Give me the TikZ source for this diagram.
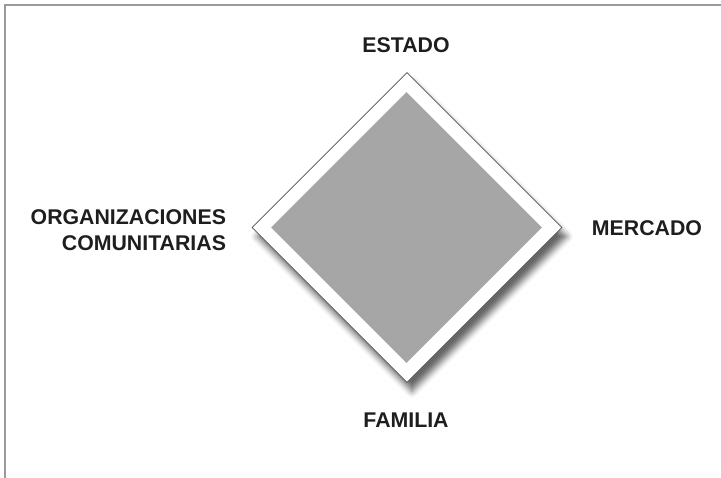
\documentclass[tikz,border=0pt]{standalone}
\usepackage{fontspec}
\setmainfont{Liberation Sans}
\usetikzlibrary{shapes.geometric, shadows.blur}
\definecolor{framegray}{HTML}{9A9A9A}
\definecolor{edgegray}{HTML}{505050}
\definecolor{fillgray}{HTML}{A6A6A6}
\definecolor{textdark}{HTML}{1E1E1E}

\begin{document}
\begin{tikzpicture} [x=1pt, y=-1pt, align=center, font=\fontsize{21.3}{26}\selectfont\bfseries, text=textdark]
\useasboundingbox (0,0) rectangle (721,478);
\draw[line width=2.5pt, framegray] (5,478) -- (5,5) -- (721,5);

\path (407,227.5) node[diamond, draw=edgegray, line width=0.8pt, fill=white, inner sep=0pt, minimum width=310pt, minimum height=310pt,
	  blur shadow={shadow xshift=5pt, shadow yshift=-9pt, shadow blur radius=6pt, shadow opacity=60}] (outer) {}
	  (406.5,227.5) node[diamond, fill=fillgray, inner sep=0pt, minimum width=271pt, minimum height=271pt] (inner) {};

\path (406,45) node (estado) {ESTADO}
	  (647,228) node (mercado) {MERCADO}
	  (406,420) node (familia) {FAMILIA}
	  (229.5,230) node[anchor=east, align=right] (comunidad) {ORGANIZACIONES\\COMUNITARIAS};
\end{tikzpicture}
\end{document}
